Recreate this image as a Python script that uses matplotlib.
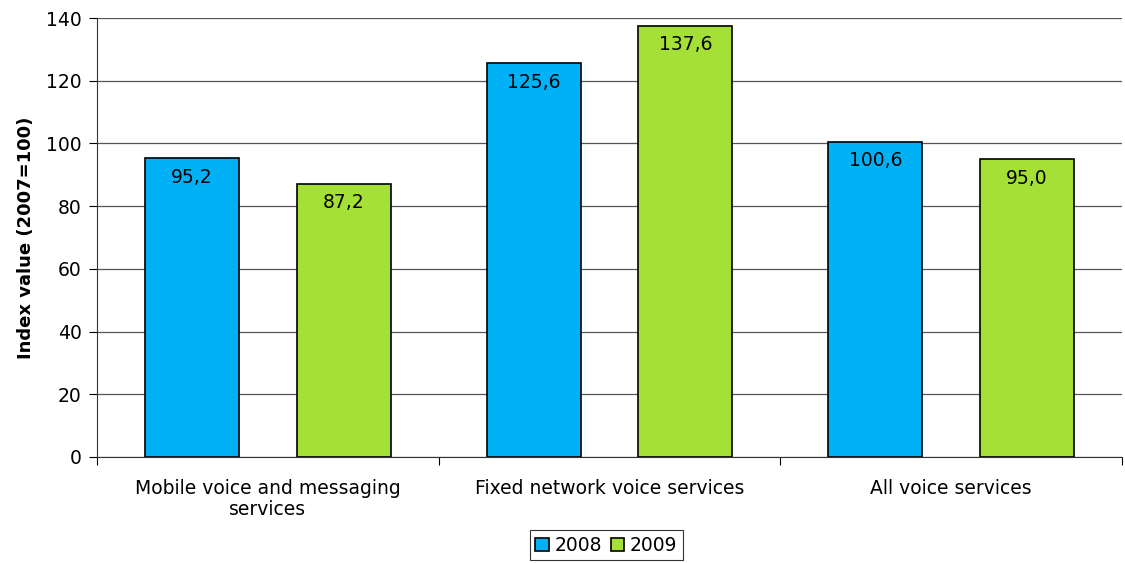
import numpy as np
import matplotlib.pyplot as plt

categories = ["Mobile voice and messaging\nservices", "Fixed network voice services", "All voice services"]
values_2008 = [95.2, 125.6, 100.6]
values_2009 = [87.2, 137.6, 95.0]
series_names = ["2008", "2009"]
yticks = [0, 20, 40, 60, 80, 100, 120, 140]

blue = "#00B2F5"
green = "#A4E035"
fs = 13.5

fig = plt.figure(figsize=(11.25, 5.63), dpi=100)
ax = fig.add_axes([97 / 1125, 1 - 457 / 563, (1122 - 97) / 1125, (457 - 18) / 563])

x = np.arange(len(categories))
w = 0.275
off = 0.222
b1 = ax.bar(x - off, values_2008, w, color=blue, edgecolor="black", linewidth=1.2, label=series_names[0], zorder=3)
b2 = ax.bar(x + off, values_2009, w, color=green, edgecolor="black", linewidth=1.2, label=series_names[1], zorder=3)

for bars, vals in [(b1, values_2008), (b2, values_2009)]:
    for rect, v in zip(bars, vals):
        ax.annotate(f"{v:.1f}".replace(".", ","), (rect.get_x() + rect.get_width() / 2, v),
                    xytext=(0, -7), textcoords="offset points", ha="center", va="top",
                    fontsize=fs, zorder=4)

ax.set_xlim(-0.5, 2.5)
ax.set_ylim(0, 140)
ax.set_yticks(yticks)
ax.tick_params(axis="y", labelsize=fs, length=6, direction="out", pad=5)
ax.yaxis.grid(True, color="#555555", linewidth=0.9, zorder=0)

# category labels between boundary ticks
ax.set_xticks(np.arange(-0.5, 3.0, 1.0))
ax.set_xticklabels([])
ax.tick_params(axis="x", length=6, direction="out")
ax.set_xticks(x, minor=True)
ax.set_xticklabels(categories, minor=True, fontsize=fs, linespacing=1.15)
ax.tick_params(axis="x", which="minor", length=0, pad=16)

for s in ["top", "right"]:
    ax.spines[s].set_visible(False)
ax.spines["left"].set_color("#333333")
ax.spines["bottom"].set_color("#333333")

ax.set_ylabel("Index value (2007=100)", fontsize=13, fontweight="bold", labelpad=8)

leg = fig.legend(handles=[b1, b2], labels=series_names, loc="lower center",
                 bbox_to_anchor=(0.539, -0.012), ncol=2, fontsize=fs, frameon=True,
                 fancybox=False, edgecolor="black", handlelength=0.7, handleheight=0.7,
                 handletextpad=0.3, columnspacing=0.5, borderpad=0.3)
leg.get_frame().set_linewidth(0.8)

fig.savefig("out.png", dpi=100)
